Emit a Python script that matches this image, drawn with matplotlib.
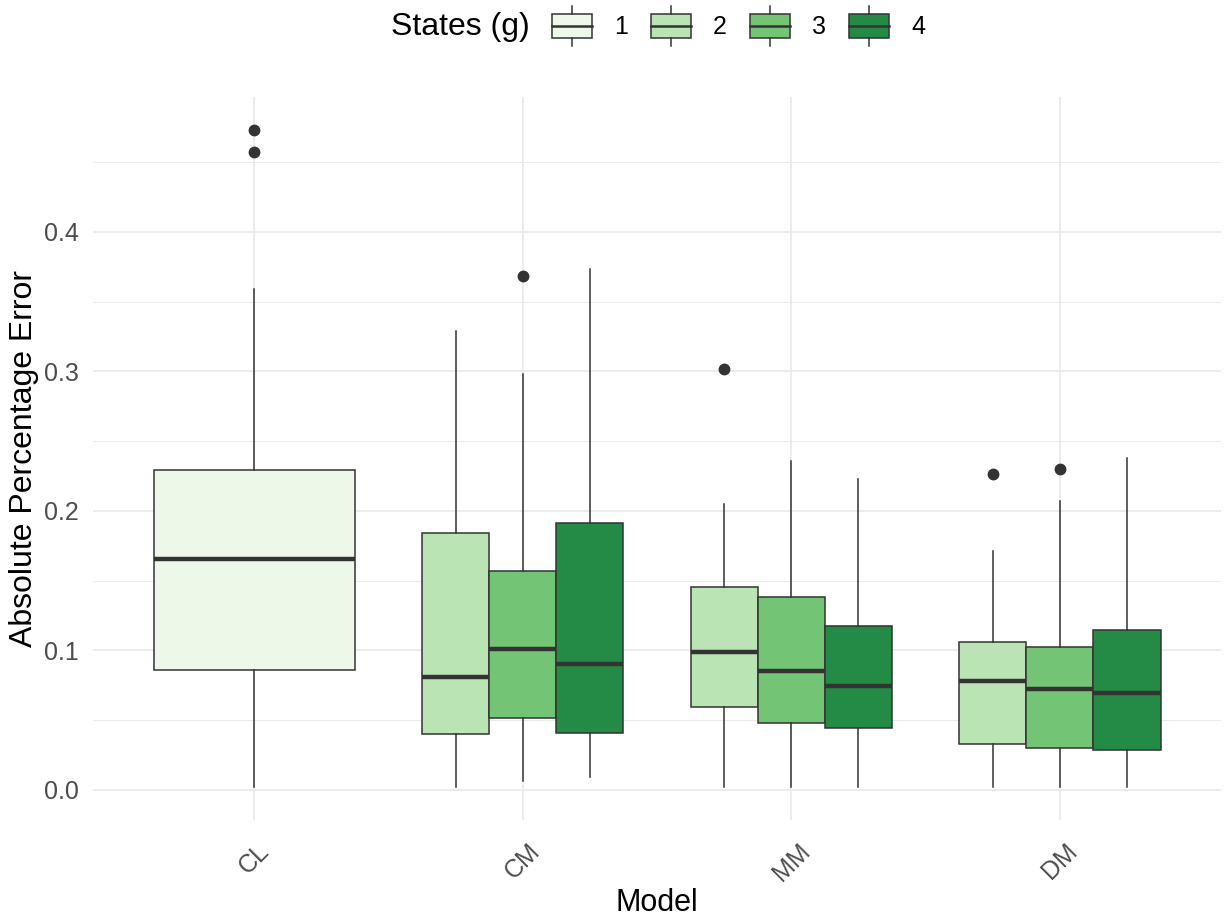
import matplotlib
matplotlib.use("Agg")
import matplotlib.pyplot as plt
import matplotlib.transforms as mtransforms
from matplotlib.patches import Patch, Rectangle
from matplotlib.legend_handler import HandlerBase
from matplotlib.lines import Line2D
from matplotlib.offsetbox import HPacker

plt.rcParams['font.family'] = ['Liberation Sans', 'DejaVu Sans']

models = ["CL", "CM", "MM", "DM"]
states = ["1", "2", "3", "4"]
colors = ["#EDF8E9", "#BAE4B3", "#74C476", "#238B45"]

# (model, state): q1, median, q3, whisker low, whisker high, outliers
box_model = ["CL", "CM", "CM", "CM", "MM", "MM", "MM", "DM", "DM", "DM"]
box_state = ["1", "2", "3", "4", "2", "3", "4", "2", "3", "4"]
q1 = [0.086, 0.040, 0.0516, 0.041, 0.0595, 0.048, 0.0444, 0.033, 0.030, 0.0287]
med = [0.1656, 0.081, 0.101, 0.090, 0.099, 0.085, 0.0746, 0.078, 0.0724, 0.0695]
q3 = [0.229, 0.184, 0.157, 0.191, 0.1455, 0.138, 0.1176, 0.106, 0.1025, 0.1147]
wlo = [0.002, 0.002, 0.006, 0.009, 0.002, 0.002, 0.002, 0.002, 0.002, 0.002]
whi = [0.359, 0.329, 0.298, 0.373, 0.205, 0.236, 0.223, 0.171, 0.207, 0.238]
outliers = [[0.473, 0.457], [], [0.368], [], [0.302], [], [], [0.2265], [0.230], []]

fig = plt.figure(figsize=(12.25, 9.24), dpi=100)
ax = fig.add_axes([93/1225, (924-820)/924, (1221-93)/1225, (820-97)/924])

line_col = "#333333"
dodge = 0.75
for i, m in enumerate(box_model):
    xi = models.index(m)
    groups = [box_state[j] for j in range(len(box_model)) if box_model[j] == m]
    n = len(groups)
    k = groups.index(box_state[i])
    w = dodge / n
    pos = xi - dodge / 2 + w * (k + 0.5)
    stats = [dict(med=med[i], q1=q1[i], q3=q3[i], whislo=wlo[i], whishi=whi[i],
                  fliers=outliers[i])]
    ax.bxp(stats, positions=[pos], widths=w * 0.999, patch_artist=True,
           showcaps=False, manage_ticks=False,
           boxprops=dict(facecolor=colors[states.index(box_state[i])], edgecolor=line_col, linewidth=1.1),
           medianprops=dict(color=line_col, linewidth=3.2, solid_capstyle='butt'),
           whiskerprops=dict(color=line_col, linewidth=1.1),
           flierprops=dict(marker='o', markerfacecolor=line_col, markeredgecolor=line_col, markersize=7.5),
           zorder=3)

ax.set_xlim(-0.6, 3.6)
ax.set_ylim(-0.0216, 0.4966)
ax.set_xticks(range(len(models)))
ax.set_xticklabels(models, rotation=45, ha='center', va='top', fontsize=18, color="#4D4D4D")
shift = mtransforms.ScaledTranslation(-5 / 100, 0, fig.dpi_scale_trans)
for lab in ax.get_xticklabels():
    lab.set_transform(lab.get_transform() + shift)
ax.set_yticks([0.0, 0.1, 0.2, 0.3, 0.4])
ax.set_yticklabels(["0.0", "0.1", "0.2", "0.3", "0.4"], fontsize=18, color="#4D4D4D")
ax.set_yticks([0.05, 0.15, 0.25, 0.35, 0.45], minor=True)
ax.tick_params(axis='x', which='both', length=0, pad=14)
ax.tick_params(axis='y', which='both', length=0, pad=10)
ax.grid(True, which='major', color="#EBEBEB", linewidth=1.3)
ax.grid(True, which='minor', axis='y', color="#EBEBEB", linewidth=0.7)
ax.set_axisbelow(True)
for s in ax.spines.values():
    s.set_visible(False)
ax.set_xlabel("Model", fontsize=22)
ax.set_ylabel("Absolute Percentage Error", fontsize=23)
ax.xaxis.set_label_coords(0.5, (820 - 888) / 723)
ax.yaxis.set_label_coords((39 - 93) / 1128, 0.5)


class BoxHandler(HandlerBase):
    def create_artists(self, legend, orig_handle, xdescent, ydescent, width, height, fontsize, trans):
        fc = orig_handle.get_facecolor()
        cx = width / 2 - xdescent
        h = height
        r = Rectangle((-xdescent, -ydescent - 0.05 * h), width, h * 1.1, facecolor=fc,
                      edgecolor=line_col, linewidth=1.1, transform=trans)
        l1 = Line2D([cx, cx], [-ydescent + 1.05 * h, -ydescent + 1.4 * h], color=line_col, lw=1.1, transform=trans)
        l2 = Line2D([cx, cx], [-ydescent - 0.05 * h, -ydescent - 0.4 * h], color=line_col, lw=1.1, transform=trans)
        lm = Line2D([-xdescent, -xdescent + width], [-ydescent + 0.5 * h, -ydescent + 0.5 * h],
                    color=line_col, lw=1.8, transform=trans)
        return [r, l1, l2, lm]


handles = [Patch(facecolor=c) for c in colors]
leg = fig.legend(handles, states, title="States (g)", loc='center',
                 bbox_to_anchor=(658 / 1225, 1 - 27 / 924), ncol=4, frameon=False,
                 handler_map={Patch: BoxHandler()}, fontsize=18, title_fontsize=23,
                 handlelength=1.6, handleheight=1.0, handletextpad=0.9, columnspacing=0.9,
                 borderpad=0, borderaxespad=0)
title = leg._legend_title_box
handlebox = leg._legend_handle_box
leg._legend_box._children = [HPacker(children=[title, handlebox], sep=16, pad=0, align='center')]

fig.savefig("out.png", dpi=100)
